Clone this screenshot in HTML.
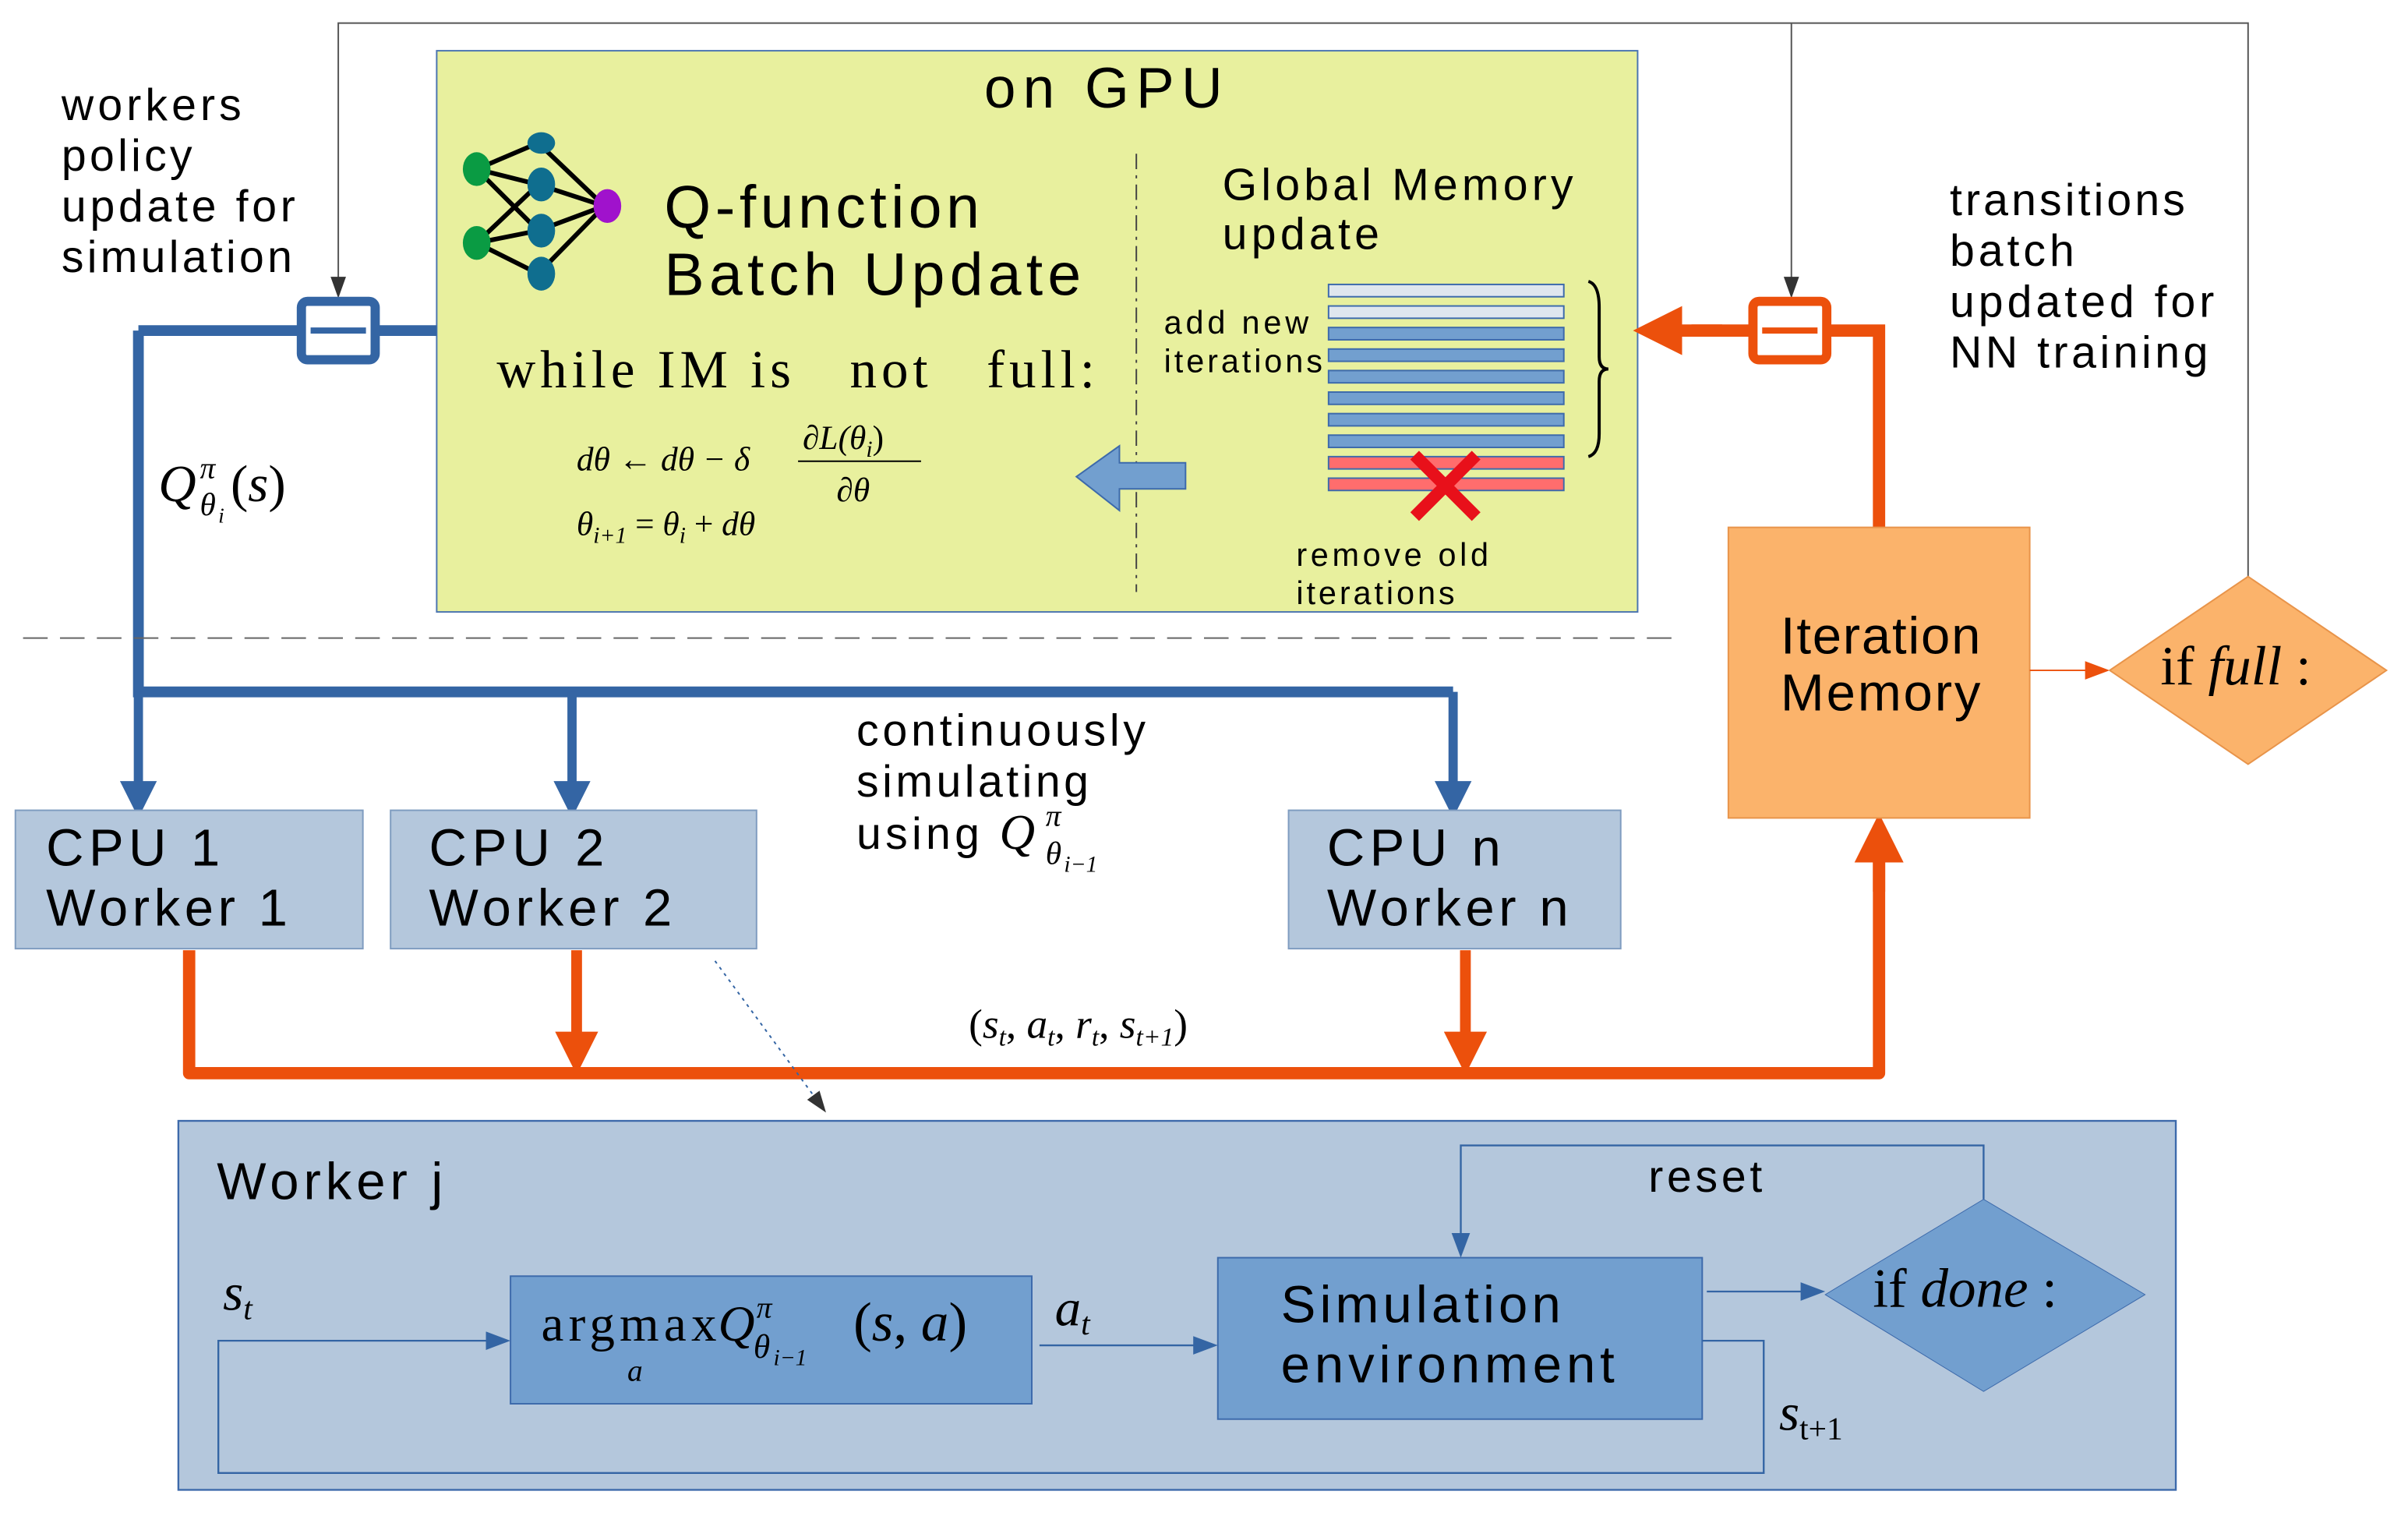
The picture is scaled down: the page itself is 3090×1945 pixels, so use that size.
<!DOCTYPE html>
<html><head><meta charset="utf-8"><style>
html,body{margin:0;padding:0;background:#fff;}
svg{display:block;}
.s{font-family:"Liberation Sans",sans-serif;fill:#000}
.m{font-family:"Liberation Serif",serif;fill:#000;font-style:italic}
.r{font-family:"Liberation Serif",serif;fill:#000}
</style></head><body>
<svg width="3090" height="1945" viewBox="0 0 1566 986" preserveAspectRatio="none" xmlns="http://www.w3.org/2000/svg">
<defs>
<marker id="ab" markerWidth="4" markerHeight="4" refX="3" refY="2" orient="auto" markerUnits="strokeWidth"><path d="M0,0 L4,2 L0,4 z" fill="#3465a4"/></marker>
<marker id="ao" markerWidth="4" markerHeight="4" refX="3" refY="2" orient="auto" markerUnits="strokeWidth"><path d="M0,0 L4,2 L0,4 z" fill="#ec500c"/></marker>
<marker id="ag" markerWidth="14" markerHeight="10" refX="12" refY="5" orient="auto" markerUnits="userSpaceOnUse"><path d="M0,0 L14,5 L0,10 z" fill="#333"/></marker>
<marker id="at" markerWidth="16" markerHeight="12" refX="14" refY="6" orient="auto" markerUnits="userSpaceOnUse"><path d="M0,0 L16,6 L0,12 z" fill="#3465a4"/></marker>
<marker id="aot" markerWidth="16" markerHeight="12" refX="14" refY="6" orient="auto" markerUnits="userSpaceOnUse"><path d="M0,0 L16,6 L0,12 z" fill="#ec500c"/></marker>
</defs>

<polyline points="1462,375 1462,15 220,15 220,192" fill="none" stroke="#555" stroke-width="1" marker-end="url(#ag)"/>
<line x1="1165" y1="15" x2="1165" y2="192" stroke="#555" stroke-width="1" marker-end="url(#ag)"/>

<rect x="284" y="33" width="781" height="365" fill="#e8f09e" stroke="#4a74b0" stroke-width="1"/>
<text x="640" y="70" class="s" font-size="37" textLength="155" lengthAdjust="spacing">on GPU</text>
<g stroke="#000" stroke-width="3">
<line x1="310" y1="110" x2="350" y2="93"/><line x1="310" y1="110" x2="350" y2="120"/><line x1="310" y1="110" x2="350" y2="150"/>
<line x1="310" y1="158" x2="350" y2="120"/><line x1="310" y1="158" x2="350" y2="150"/><line x1="310" y1="158" x2="350" y2="178"/>
<line x1="350" y1="93" x2="393" y2="134"/><line x1="350" y1="120" x2="393" y2="134"/><line x1="350" y1="150" x2="393" y2="134"/><line x1="350" y1="178" x2="393" y2="134"/>
</g>
<ellipse cx="310" cy="110" rx="9" ry="11" fill="#0a9b43"/><ellipse cx="310" cy="158" rx="9" ry="11" fill="#0a9b43"/>
<ellipse cx="352" cy="93" rx="9" ry="7" fill="#0f6e8f"/><ellipse cx="352" cy="120" rx="9" ry="11" fill="#0f6e8f"/>
<ellipse cx="352" cy="150" rx="9" ry="11" fill="#0f6e8f"/><ellipse cx="352" cy="178" rx="9" ry="11" fill="#0f6e8f"/>
<ellipse cx="395" cy="134" rx="9" ry="11" fill="#a012cc"/>
<text x="432" y="148" class="s" font-size="39" textLength="205" lengthAdjust="spacing">Q-function</text>
<text x="432" y="192" class="s" font-size="39" textLength="271" lengthAdjust="spacing">Batch Update</text>
<line x1="739" y1="100" x2="739" y2="385" stroke="#444" stroke-width="1" stroke-dasharray="10,4,2,4"/>
<text x="795" y="130" class="s" font-size="29" textLength="228" lengthAdjust="spacing">Global Memory</text>
<text x="795" y="162" class="s" font-size="29" textLength="102" lengthAdjust="spacing">update</text>
<text x="757" y="217" class="s" font-size="21" textLength="94" lengthAdjust="spacing">add new</text>
<text x="757" y="242" class="s" font-size="21" textLength="103" lengthAdjust="spacing">iterations</text>
<g stroke="#3d6aab" stroke-width="1">
<rect x="864" y="185" width="153" height="8" fill="#dfe6ee"/>
<rect x="864" y="199" width="153" height="8" fill="#dfe6ee"/>
<rect x="864" y="213" width="153" height="8" fill="#729fcf"/>
<rect x="864" y="227" width="153" height="8" fill="#729fcf"/>
<rect x="864" y="241" width="153" height="8" fill="#729fcf"/>
<rect x="864" y="255" width="153" height="8" fill="#729fcf"/>
<rect x="864" y="269" width="153" height="8" fill="#729fcf"/>
<rect x="864" y="283" width="153" height="8" fill="#729fcf"/>
<rect x="864" y="297" width="153" height="8" fill="#ff6d6d"/>
<rect x="864" y="311" width="153" height="8" fill="#ff6d6d"/>
</g>
<path d="M1033,183 Q1040,185 1040,200 L1040,232 Q1040,240 1046,240 Q1040,240 1040,248 L1040,282 Q1040,295 1033,297" fill="none" stroke="#000" stroke-width="2"/>
<g stroke="#e8101a" stroke-width="8"><line x1="920" y1="296" x2="960" y2="336"/><line x1="960" y1="296" x2="920" y2="336"/></g>
<text x="843" y="368" class="s" font-size="21" textLength="125" lengthAdjust="spacing">remove old</text>
<text x="843" y="393" class="s" font-size="21" textLength="103" lengthAdjust="spacing">iterations</text>
<path d="M771,301 L728,301 L728,290 L700,310 L728,332 L728,318 L771,318 z" fill="#729fcf" stroke="#3d6aab" stroke-width="1"/>
<text x="323" y="252" class="r" font-size="35" textLength="389" lengthAdjust="spacing">while IM is &#160;&#160;not &#160;&#160;full:</text>
<text x="375" y="306" class="m" font-size="22">dθ ← dθ − δ</text>
<text x="522" y="292" class="m" font-size="22">∂L(θ<tspan font-size="15" dy="5">i</tspan><tspan dy="-5" font-style="normal">)</tspan></text>
<line x1="519" y1="300" x2="599" y2="300" stroke="#000" stroke-width="1"/>
<text x="544" y="326" class="m" font-size="22">∂θ</text>
<text x="375" y="348" class="m" font-size="22">θ<tspan font-size="15" dy="5">i+1</tspan><tspan dy="-5" font-style="normal"> = </tspan>θ<tspan font-size="15" dy="5">i</tspan><tspan dy="-5" font-style="normal"> + </tspan>dθ</text>

<text x="40" y="78" class="s" font-size="29" textLength="117" lengthAdjust="spacing">workers</text>
<text x="40" y="111" class="s" font-size="29" textLength="85" lengthAdjust="spacing">policy</text>
<text x="40" y="144" class="s" font-size="29" textLength="152" lengthAdjust="spacing">update for</text>
<text x="40" y="177" class="s" font-size="29" textLength="150" lengthAdjust="spacing">simulation</text>
<text x="1268" y="140" class="s" font-size="29" textLength="153" lengthAdjust="spacing">transitions</text>
<text x="1268" y="173" class="s" font-size="29" textLength="81" lengthAdjust="spacing">batch</text>
<text x="1268" y="206" class="s" font-size="29" textLength="172" lengthAdjust="spacing">updated for</text>
<text x="1268" y="239" class="s" font-size="29" textLength="168" lengthAdjust="spacing">NN training</text>

<polyline points="90,215 284,215" fill="none" stroke="#3465a4" stroke-width="7"/>
<polyline points="90,215 90,450 945,450" fill="none" stroke="#3465a4" stroke-width="7"/>
<line x1="90" y1="450" x2="90" y2="526" stroke="#3465a4" stroke-width="6" marker-end="url(#ab)"/>
<line x1="372" y1="450" x2="372" y2="526" stroke="#3465a4" stroke-width="6" marker-end="url(#ab)"/>
<line x1="945" y1="450" x2="945" y2="526" stroke="#3465a4" stroke-width="6" marker-end="url(#ab)"/>
<rect x="196" y="196" width="48" height="38" rx="4" fill="#fff" stroke="#3465a4" stroke-width="6"/>
<line x1="202" y1="215" x2="238" y2="215" stroke="#3465a4" stroke-width="4"/>
<text x="103" y="326" class="m" font-size="34">Q</text>
<text x="130" y="311" class="m" font-size="20">π</text>
<text x="130" y="335" class="m" font-size="21">θ</text>
<text x="142" y="340" class="m" font-size="14">i</text>
<text x="150" y="326" class="m" font-size="34"><tspan font-style="normal">(</tspan>s<tspan font-style="normal">)</tspan></text>

<line x1="15" y1="415" x2="1090" y2="415" stroke="#666" stroke-width="1" stroke-dasharray="16,8"/>

<rect x="10" y="527" width="226" height="90" fill="#b4c7dc" stroke="#7f9cc0" stroke-width="1"/>
<rect x="254" y="527" width="238" height="90" fill="#b4c7dc" stroke="#7f9cc0" stroke-width="1"/>
<rect x="838" y="527" width="216" height="90" fill="#b4c7dc" stroke="#7f9cc0" stroke-width="1"/>
<text x="30" y="563" class="s" font-size="34" textLength="113" lengthAdjust="spacing">CPU 1</text><text x="30" y="602" class="s" font-size="34" textLength="157" lengthAdjust="spacing">Worker 1</text>
<text x="279" y="563" class="s" font-size="34" textLength="114" lengthAdjust="spacing">CPU 2</text><text x="279" y="602" class="s" font-size="34" textLength="158" lengthAdjust="spacing">Worker 2</text>
<text x="863" y="563" class="s" font-size="34" textLength="113" lengthAdjust="spacing">CPU n</text><text x="863" y="602" class="s" font-size="34" textLength="157" lengthAdjust="spacing">Worker n</text>
<text x="557" y="485" class="s" font-size="29" textLength="188" lengthAdjust="spacing">continuously</text>
<text x="557" y="518" class="s" font-size="29" textLength="151" lengthAdjust="spacing">simulating</text>
<text x="557" y="552" class="s" font-size="29" textLength="80" lengthAdjust="spacing">using</text>
<text x="650" y="552" class="m" font-size="32">Q</text>
<text x="680" y="537" class="m" font-size="20">π</text>
<text x="680" y="562" class="m" font-size="21">θ</text>
<text x="692" y="567" class="m" font-size="15">i−1</text>

<polyline points="123,618 123,698 1222,698 1222,560" fill="none" stroke="#ec500c" stroke-width="8" stroke-linejoin="round"/>
<line x1="1222" y1="580" x2="1222" y2="537" stroke="#ec500c" stroke-width="8" marker-end="url(#ao)"/>
<line x1="375" y1="618" x2="375" y2="692" stroke="#ec500c" stroke-width="7" marker-end="url(#ao)"/>
<line x1="953" y1="618" x2="953" y2="692" stroke="#ec500c" stroke-width="7" marker-end="url(#ao)"/>
<polyline points="1222,343 1222,215 1100,215" fill="none" stroke="#ec500c" stroke-width="8"/>
<line x1="1120" y1="215" x2="1070" y2="215" stroke="#ec500c" stroke-width="8" marker-end="url(#ao)"/>
<rect x="1140" y="196" width="48" height="38" rx="4" fill="#fff" stroke="#ec500c" stroke-width="6"/>
<line x1="1146" y1="215" x2="1182" y2="215" stroke="#ec500c" stroke-width="4"/>
<text x="630" y="675" class="m" font-size="27"><tspan font-style="normal">(</tspan>s<tspan font-size="17" dy="5">t</tspan><tspan dy="-5" font-style="normal">, </tspan>a<tspan font-size="17" dy="5">t</tspan><tspan dy="-5" font-style="normal">, </tspan>r<tspan font-size="17" dy="5">t</tspan><tspan dy="-5" font-style="normal">, </tspan>s<tspan font-size="17" dy="5">t+1</tspan><tspan dy="-5" font-style="normal">)</tspan></text>

<rect x="1124" y="343" width="196" height="189" fill="#fbb36b" stroke="#e8944a" stroke-width="1"/>
<text x="1158" y="425" class="s" font-size="34" textLength="130" lengthAdjust="spacing">Iteration</text>
<text x="1158" y="462" class="s" font-size="34" textLength="130" lengthAdjust="spacing">Memory</text>
<line x1="1320" y1="436" x2="1370" y2="436" stroke="#ec500c" stroke-width="1" marker-end="url(#aot)"/>
<polygon points="1462,375 1552,436 1462,497 1372,436" fill="#fbb36b" stroke="#e8944a" stroke-width="1"/>
<text x="1405" y="445" class="r" font-size="36">if <tspan font-style="italic">full</tspan> :</text>

<line x1="465" y1="625" x2="536" y2="722" stroke="#3465a4" stroke-width="1" stroke-dasharray="2,3" marker-end="url(#ag)"/>

<rect x="116" y="729" width="1299" height="240" fill="#b4c7dc" stroke="#3d6aab" stroke-width="1.2"/>
<text x="141" y="780" class="s" font-size="34" textLength="147" lengthAdjust="spacing">Worker j</text>
<rect x="332" y="830" width="339" height="83" fill="#729fcf" stroke="#3d6aab" stroke-width="1"/>
<rect x="792" y="818" width="315" height="105" fill="#729fcf" stroke="#3d6aab" stroke-width="1"/>
<polygon points="1290,780 1395,842 1290,905 1187,842" fill="#729fcf" stroke="#3d6aab" stroke-width="0.5"/>
<text x="1218" y="850" class="r" font-size="36">if <tspan font-style="italic">done</tspan> :</text>
<text x="833" y="860" class="s" font-size="34" textLength="182" lengthAdjust="spacing">Simulation</text>
<text x="833" y="899" class="s" font-size="34" textLength="217" lengthAdjust="spacing">environment</text>
<text x="352" y="872" class="r" font-size="33" textLength="114" lengthAdjust="spacing">argmax</text>
<text x="467" y="872" class="m" font-size="33">Q</text>
<text x="492" y="857" class="m" font-size="20">π</text>
<text x="490" y="883" class="m" font-size="22">θ</text>
<text x="503" y="888" class="m" font-size="15">i−1</text>
<text x="555" y="872" class="r" font-size="36">(<tspan font-style="italic">s</tspan>, <tspan font-style="italic">a</tspan>)</text>
<text x="408" y="898" class="m" font-size="20">a</text>
<g stroke="#3465a4" stroke-width="1.2" fill="none">
<polyline points="1290,780 1290,745 950,745 950,816" marker-end="url(#at)"/>
<line x1="1110" y1="840" x2="1185" y2="840" marker-end="url(#at)"/>
<line x1="676" y1="875" x2="790" y2="875" marker-end="url(#at)"/>
<polyline points="1107,872 1147,872 1147,958 142,958 142,872 330,872" marker-end="url(#at)"/>
</g>
<text x="1072" y="775" class="s" font-size="29" textLength="74" lengthAdjust="spacing">reset</text>
<text x="145" y="852" class="m" font-size="34">s<tspan font-size="21" dy="6">t</tspan></text>
<text x="686" y="862" class="m" font-size="34">a<tspan font-size="21" dy="6">t</tspan></text>
<text x="1157" y="930" class="m" font-size="34">s<tspan font-size="21" dy="6" font-style="normal">t+1</tspan></text>
</svg>
</body></html>
